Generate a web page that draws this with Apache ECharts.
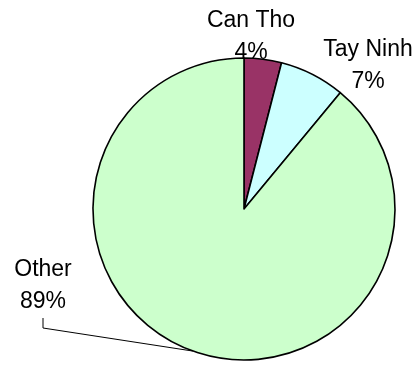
<!DOCTYPE html>
<html>
<head>
<meta charset="utf-8">
<script src="https://cdn.jsdelivr.net/npm/echarts@6/dist/echarts.min.js"></script>
<style>
  html, body { margin: 0; padding: 0; background: #fff; }
  #chart { width: 419px; height: 365px; }
</style>
</head>
<body>
<div id="chart"></div>
<script>
(function(){
  const regions = ['Can Tho', 'Tay Ninh', 'Other'];
  const shares = [4, 7, 89];
  const sliceColors = ['#993366', '#ccffff', '#ccffcc'];

  // label anchor per slice (centre of the two-line text block)
  const labelSpots = [
    { x: 251, y: 37 },
    { x: 368, y: 66 },
    { x: 43, y: 286 }
  ];

  const chart = echarts.init(document.getElementById('chart'), null, { renderer: 'canvas' });

  const data = regions.map((name, i) => ({
    name: name,
    value: shares[i],
    itemStyle: { color: sliceColors[i] },
    labelLine: { show: name === 'Other' }
  }));

  chart.setOption({
    animation: false,
    series: [{
      type: 'pie',
      center: [244, 209],
      radius: 151,
      startAngle: 90,
      clockwise: true,
      avoidLabelOverlap: false,
      data: data,
      itemStyle: { borderColor: '#000', borderWidth: 1.6 },
      emphasis: { disabled: true },
      label: {
        show: true,
        position: 'outside',
        formatter: '{b}\n{d}%',
        fontFamily: 'Liberation Sans, Arial, sans-serif',
        fontSize: 23,
        lineHeight: 32,
        color: '#000',
        align: 'center'
      },
      labelLine: {
        show: false,
        lineStyle: { color: '#000', width: 1 }
      },
      labelLayout: function(params){
        const spot = labelSpots[params.dataIndex];
        const out = {
          x: spot.x, y: spot.y,
          align: 'center', verticalAlign: 'middle',
          hideOverlap: false, moveOverlap: false
        };
        if (params.dataIndex === 2 && params.labelLinePoints) {
          const edge = params.labelLinePoints[0];
          out.labelLinePoints = [
            [edge[0], edge[1]],
            [spot.x, spot.y + 42],
            [spot.x, spot.y + 32]
          ];
        }
        return out;
      }
    }]
  });
})();
</script>
</body>
</html>
